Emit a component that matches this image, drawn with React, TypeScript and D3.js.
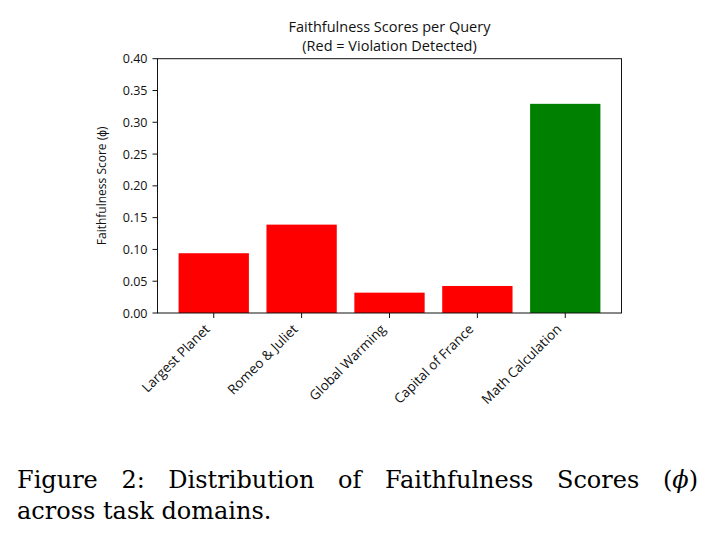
import React, { useLayoutEffect, useRef } from "react";
import * as d3 from "d3";

const categories = ["Largest Planet", "Romeo & Juliet", "Global Warming", "Capital of France", "Math Calculation"];
const scores = [0.094, 0.139, 0.032, 0.0425, 0.329];
const violations = [true, true, true, true, false];
const yTicks = [0, 0.05, 0.1, 0.15, 0.2, 0.25, 0.3, 0.35, 0.4];

const W = 717, H = 545;
const axL = 157.5, axR = 621.5, axT = 58.7, axB = 313;
const FONT = "'Open Sans', sans-serif";
const SERIF = "'DejaVu Serif', serif";
const capLeft = 17, capRight = 698;

export default function App() {
  const capRef = useRef<SVGTextElement>(null);
  useLayoutEffect(() => {
    const el = capRef.current;
    if (!el) return;
    el.setAttribute("word-spacing", "0");
    const w = el.getComputedTextLength();
    const gaps = 6;
    el.setAttribute("word-spacing", String(Math.max(0, (capRight - capLeft - w) / gaps)));
  }, []);
  const x = d3.scaleBand<string>().domain(categories).range([axL, axR]).paddingInner(0.2).paddingOuter(0.24);
  const y = d3.scaleLinear().domain([0, 0.4]).range([axB, axT]);
  const fmt = d3.format(".2f");
  const midX = (axL + axR) / 2;
  return (
    <svg width={W} height={H} style={{ position: "absolute", left: 0, top: 0, background: "#fff" }}>
      <rect x={0} y={0} width={W} height={H} fill="#fff" />
      <text x={midX} y={31.5} textAnchor="middle" fontFamily={FONT} fontSize={14.5} fill="#111">Faithfulness Scores per Query</text>
      <text x={midX} y={51} textAnchor="middle" fontFamily={FONT} fontSize={14.5} fill="#111">(Red = Violation Detected)</text>
      {categories.map((c, i) => (
        <rect key={c} x={x(c)} y={y(scores[i])} width={x.bandwidth()} height={y(0) - y(scores[i])} fill={violations[i] ? "#ff0000" : "#008000"} />
      ))}
      <rect x={axL} y={axT} width={axR - axL} height={axB - axT} fill="none" stroke="#111" strokeWidth={1} />
      {yTicks.map((t) => (
        <g key={t}>
          <line x1={axL - 5} x2={axL} y1={y(t)} y2={y(t)} stroke="#111" />
          <text x={axL - 10} y={y(t) + 4.5} textAnchor="end" fontFamily={FONT} fontSize={12.5} fill="#111">{fmt(t)}</text>
        </g>
      ))}
      {categories.map((c) => {
        const cx = x(c)! + x.bandwidth() / 2;
        return (
          <g key={c}>
            <line x1={cx} x2={cx} y1={axB} y2={axB + 5} stroke="#111" />
            <text transform={`translate(${cx - 3},${axB + 17}) rotate(-45)`} textAnchor="end" fontFamily={FONT} fontSize={13.5} fill="#111">{c}</text>
          </g>
        );
      })}
      <text transform={`translate(106,${(axT + axB) / 2}) rotate(-90)`} textAnchor="middle" fontFamily={FONT} fontSize={12} fill="#111">Faithfulness Score (ϕ)</text>
      <text ref={capRef} x={capLeft} y={488} fontFamily={SERIF} fontSize={24} fill="#000">Figure 2: Distribution of Faithfulness Scores (<tspan fontStyle="italic">ϕ</tspan>)</text>
      <text x={capLeft} y={519} fontFamily={SERIF} fontSize={24} fill="#000">across task domains.</text>
    </svg>
  );
}
